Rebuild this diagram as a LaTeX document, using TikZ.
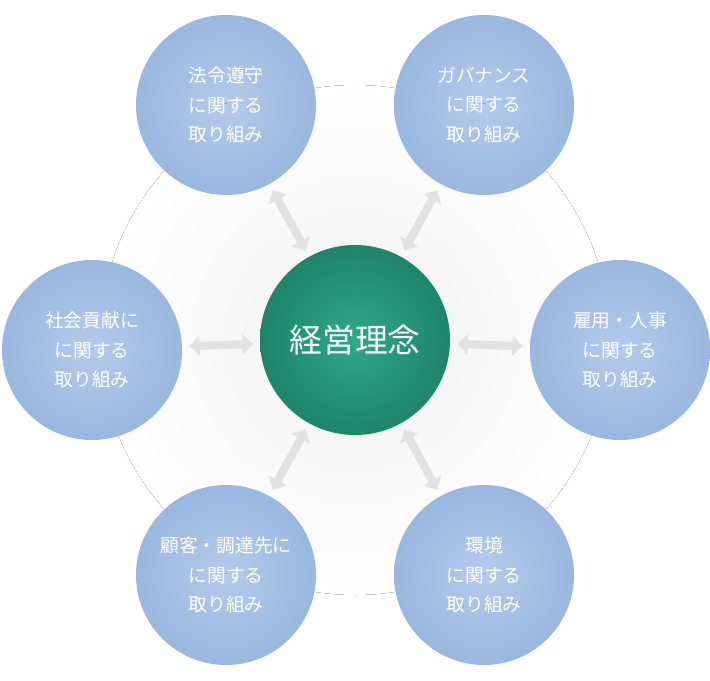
\documentclass[tikz,border=0pt]{standalone}
\usepackage{fontspec}
\setmainfont{Noto Sans CJK JP}
\usetikzlibrary{arrows.meta,calc,positioning}

\definecolor{topicblue}{HTML}{9AB7E0}
\definecolor{topiclight}{HTML}{B3CBEB}
\definecolor{coregreen}{HTML}{1E8568}
\definecolor{corelight}{HTML}{2DAA86}
\definecolor{linkgray}{HTML}{E2E2E2}
\definecolor{chevblue}{HTML}{3C5FAF}

\tikzset{
  topic/.style={circle, minimum size=5.4cm, inner sep=0pt,
                inner color=topiclight, outer color=topicblue,
                text=white, font=\fontsize{16}{25}\selectfont, align=center},
  core/.style={circle, minimum size=5.7cm, inner sep=0pt,
               inner color=corelight, outer color=coregreen,
               text=white, font=\fontsize{28}{30}\selectfont},
  link/.style={linkgray, line width=7pt, {Triangle[length=9pt,width=17pt]}-{Triangle[length=9pt,width=17pt]},
               shorten <=6pt, shorten >=6pt},
  chev/.style={chevblue, line width=0.5pt}
}

% chevrons below the label of a topic circle
\newcommand{\chevrons}[1]{%
  \foreach \k in {0,1,2}{
    \draw[chev] ($(#1)+(-0.16+0.1*\k,-1.42)$) -- ++(0.12,-0.16) -- ++(-0.12,-0.16);}}

\begin{document}
\begin{tikzpicture}[x=0.03cm,y=-0.03cm]

\useasboundingbox (0,0) rectangle (710,680);

% soft background glow
\fill[inner color=gray!12, outer color=white] (355,340) circle (255);

% ---------------------------------------------------------------
% Circles
\node[core]  (core) at (355,340) {経営理念};

\node[topic] (law)  at (226,105) {法令遵守\\に関する\\取り組み};
\node[topic] (gov)  at (484,105) {ガバナンス\\に関する\\取り組み};
\node[topic] (soc)  at (92,350)  {社会貢献に\\に関する\\取り組み};
\node[topic] (emp)  at (620,350) {雇用・人事\\に関する\\取り組み};
\node[topic] (cust) at (226,575) {顧客・調達先に\\に関する\\取り組み};
\node[topic] (env)  at (484,575) {環境\\に関する\\取り組み};

% Arrows
\foreach \t in {law,gov,soc,emp,cust,env}{
  \draw[link] (core) -- (\t);}

% Chevrons
\foreach \t in {law,gov,soc,emp,cust,env}{
  \chevrons{\t}}

\end{tikzpicture}
\end{document}
